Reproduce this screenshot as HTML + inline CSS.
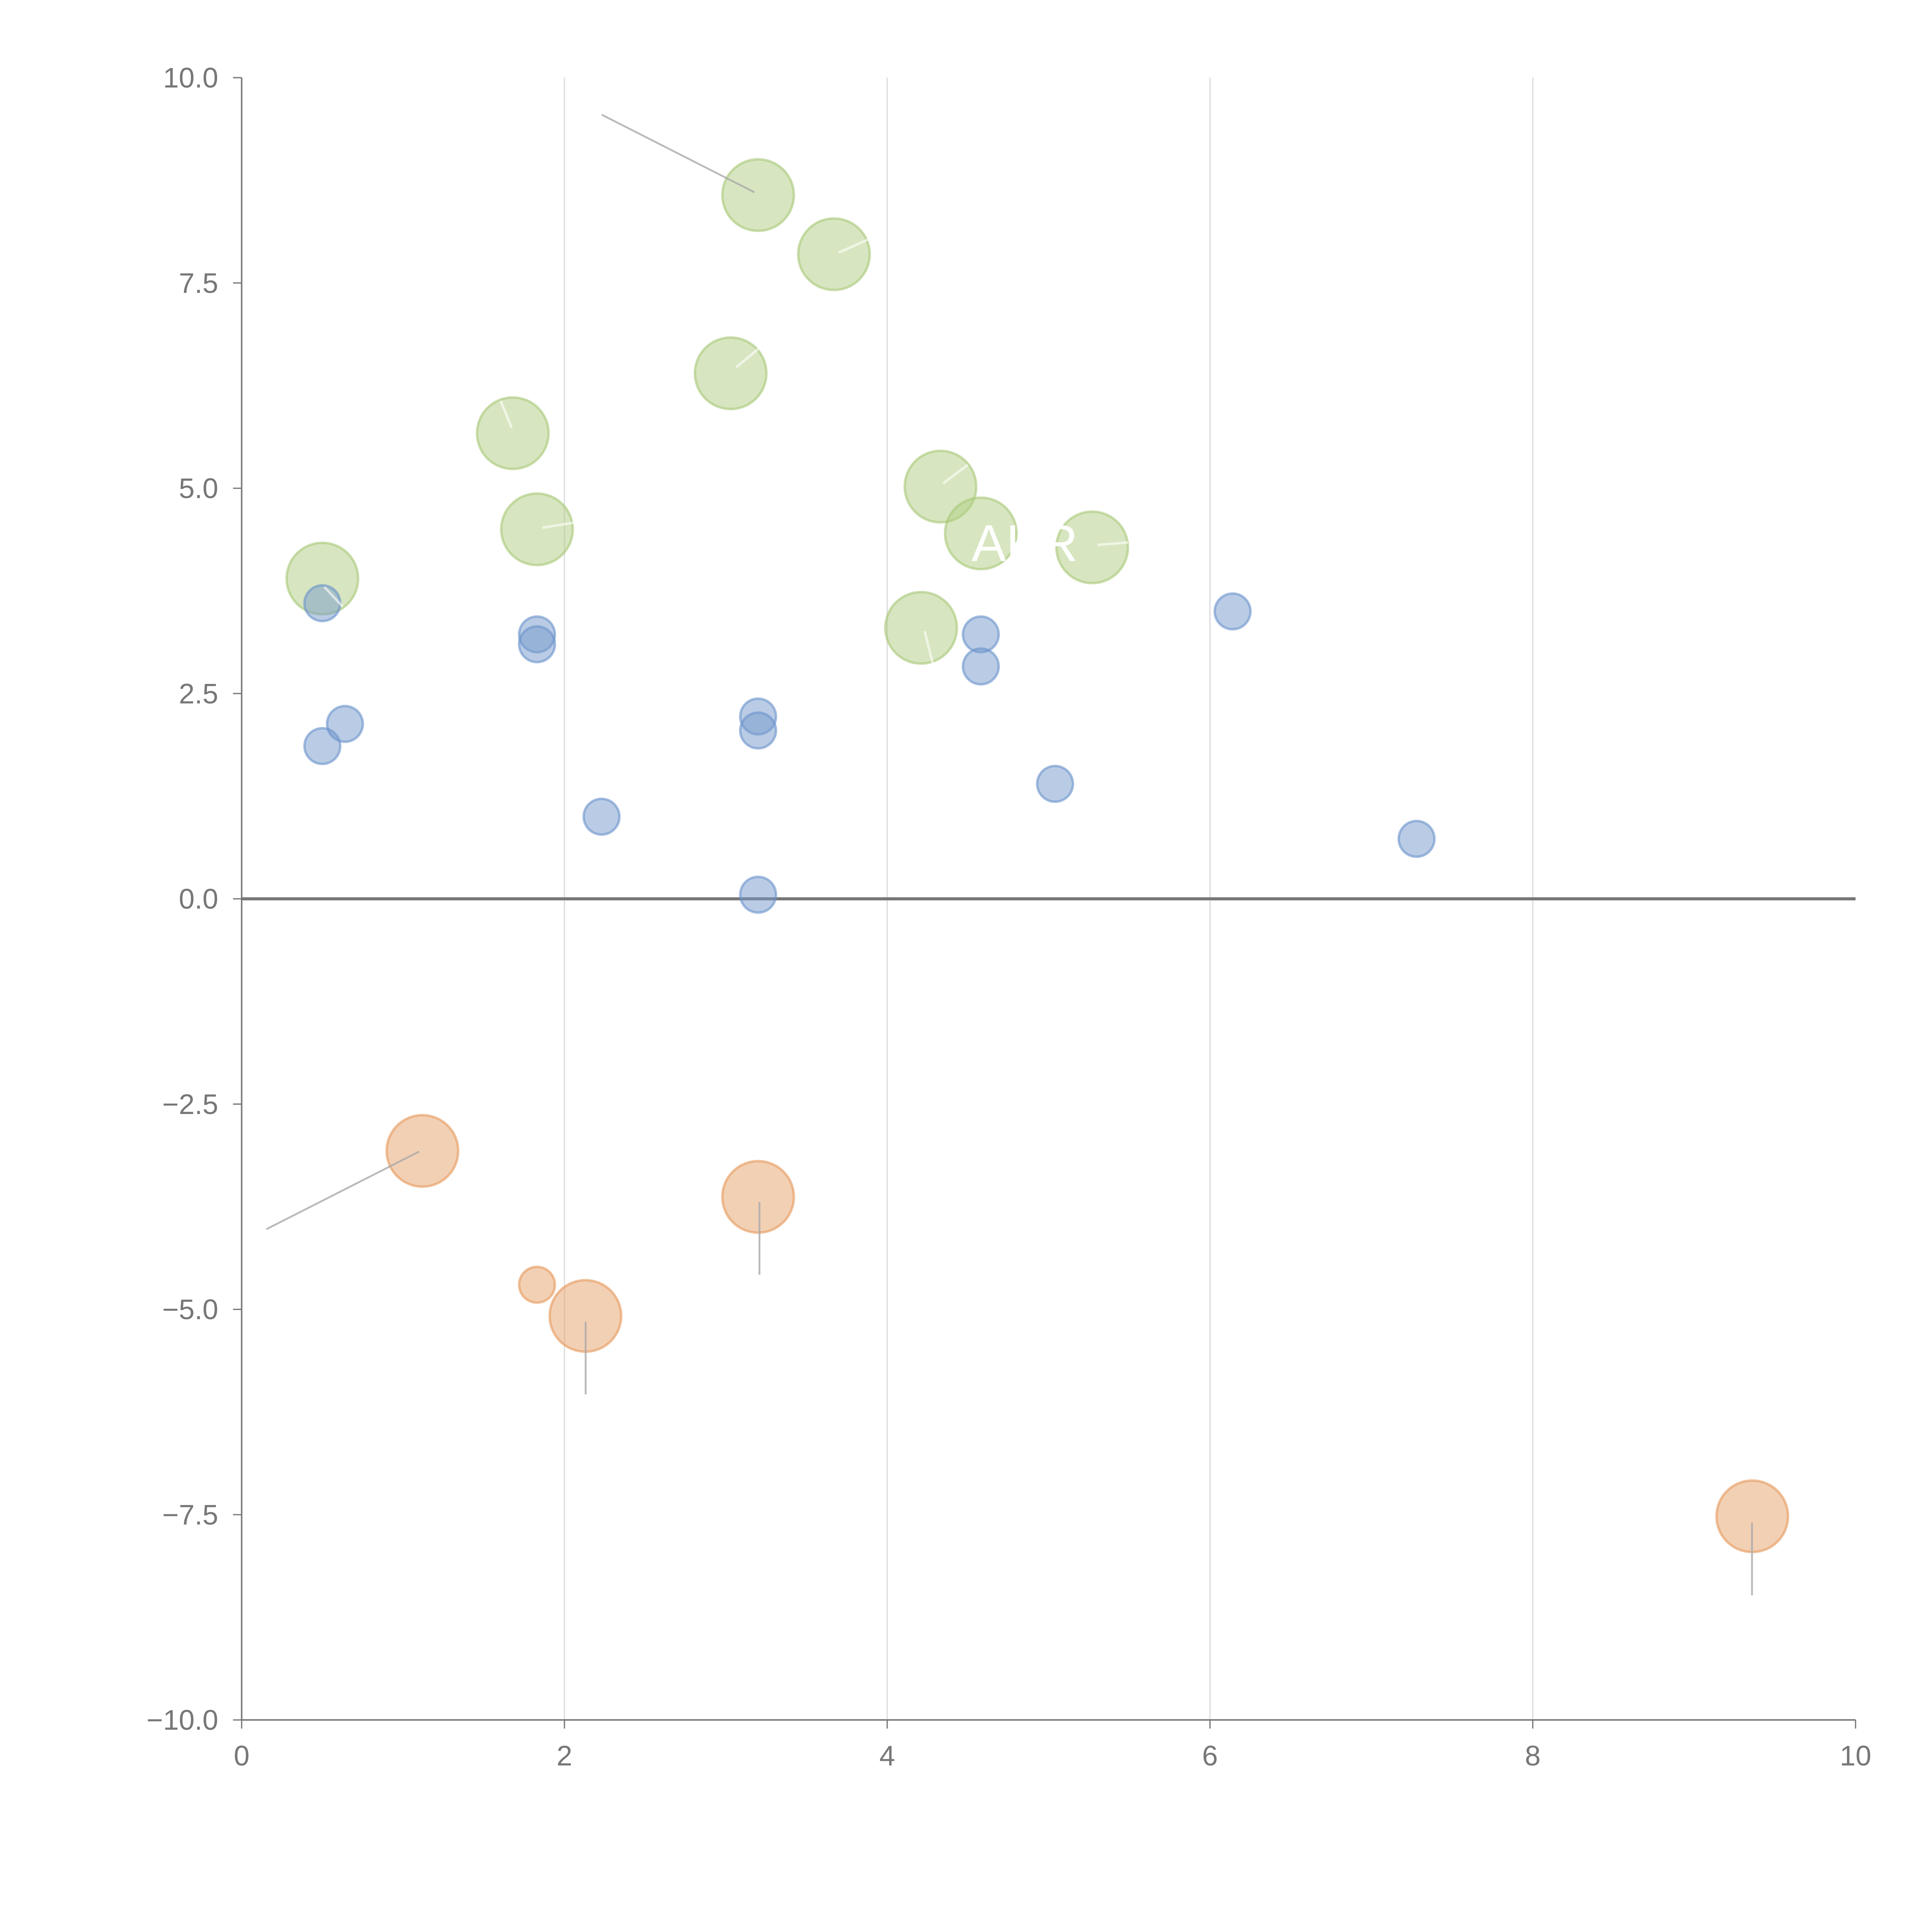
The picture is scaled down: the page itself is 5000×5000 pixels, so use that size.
<!DOCTYPE html>
<html><head><meta charset="utf-8"><style>html,body{margin:0;padding:0;background:#fff}svg{display:block}text{font-family:"Liberation Sans",sans-serif}</style></head>
<body>
<svg id="chart" width="5000" height="5000" viewBox="0 0 1567 1567" xmlns="http://www.w3.org/2000/svg">
<g id="grid"></g>
<g id="axes"></g>
<g id="lines"></g>
<g id="marks"></g>
<text x="788" y="455" font-size="42" fill="#fff">AKR</text>
</svg>
<script>
const xTicks=[0,2,4,6,8,10];
const yTicks=[10,7.5,5,2.5,0,-2.5,-5,-7.5,-10];
const yTickLabels=["10.0","7.5","5.0","2.5","0.0","\u22122.5","\u22125.0","\u22127.5","\u221210.0"];
const greenX=[3.2,3.67,3.03,1.68,1.83,0.5,4.33,4.58,5.27,4.21];
const greenY=[8.57,7.85,6.4,5.67,4.5,3.9,5.02,4.45,4.28,3.3];
const blueX=[0.5,1.83,1.83,0.5,0.64,2.23,3.2,3.2,3.2,4.58,4.58,5.04,6.14,7.28];
const blueY=[3.6,3.22,3.1,1.86,2.13,1.0,2.22,2.05,0.05,3.22,2.83,1.4,3.5,0.73];
const orangeX=[1.12,3.2,1.83,2.13,9.36];
const orangeY=[-3.07,-3.63,-4.7,-5.08,-7.52];
const orangeBig=[1,1,0,1,1];
const X=v=>196+v*130.9, Y=v=>729-v*66.6;
const NS="http://www.w3.org/2000/svg";
function mk(p,t,a){const e=document.createElementNS(NS,t);for(const k in a)e.setAttribute(k,a[k]);p.appendChild(e);return e;}
const grid=document.getElementById('grid'),axes=document.getElementById('axes'),lines=document.getElementById('lines'),marks=document.getElementById('marks');
xTicks.forEach(t=>{if(t>0&&t<10){const l=mk(grid,'line',{x1:X(t),x2:X(t),y1:Y(10),y2:Y(-10),stroke:'#dcdcdc','stroke-width':1});

}
const tk=mk(axes,'line',{x1:X(t),x2:X(t),y1:Y(-10),y2:Y(-10)+7,stroke:'#777'});


const tx=mk(axes,'text',{x:X(t),y:1432,'font-size':23,fill:'#777','text-anchor':'middle'});tx.textContent=t;

});
yTicks.forEach((t,i)=>{const tk=mk(axes,'line',{x1:X(0)-7,x2:X(0),y1:Y(t),y2:Y(t),stroke:'#777'});


const tx=mk(axes,'text',{x:177,y:Y(t)+8,'font-size':23,fill:'#777','text-anchor':'end'});tx.textContent=yTickLabels[i];

});
let a=mk(axes,'line',{x1:X(0),x2:X(0),y1:Y(10),y2:Y(-10),stroke:'#777','stroke-width':1.2});


a=mk(axes,'line',{x1:X(0),x2:X(10),y1:Y(-10),y2:Y(-10),stroke:'#777','stroke-width':1.2});


a=mk(axes,'line',{x1:X(0),x2:X(10),y1:Y(0),y2:Y(0),stroke:'#777','stroke-width':2.5});


[[488,93,612,156],[216,997,340,934],[616,975,616,1034],[475,1072,475,1131],[1421,1235,1421,1294]].forEach(s=>{const l=mk(lines,'line',{x1:s[0],y1:s[1],x2:s[2],y2:s[3],stroke:'#aaa','stroke-width':1.5,opacity:0.8});

});
function draw(xs,ys,rf,fill,stroke,name){xs.forEach((x,i)=>{const c=mk(marks,'circle',{cx:X(x),cy:Y(ys[i]),r:rf(i),fill:fill,stroke:stroke,'stroke-width':2,'fill-opacity':0.5,'stroke-opacity':0.6});

});}
draw(greenX,greenY,()=>29,'#b0cd82','#a8c878','green-bubble');
draw(blueX,blueY,()=>14.5,'#7699cc','#6b92cc','blue-bubble');
draw(orangeX,orangeY,i=>orangeBig[i]?29:14.5,'#e6a26a','#e69a5c','orange-bubble');
[[680,205,718,188],[597,298,615,283],[415,347,406,325],[440,428,465,424],[765,392,785,377],[750,512,757,540],[263,476,278,492],[890,442,915,440]].forEach(s=>{const l=mk(lines,'line',{x1:s[0],y1:s[1],x2:s[2],y2:s[3],stroke:'#fff','stroke-width':2,opacity:0.6});

});
marks.parentNode.appendChild(lines);
</script>
</body></html>
